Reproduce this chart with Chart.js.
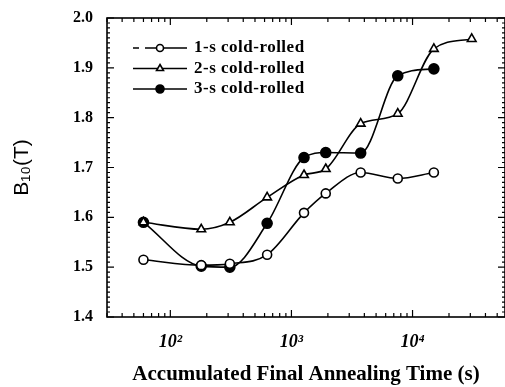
<!DOCTYPE html>
<html>
<head>
<meta charset="utf-8">
<script src="https://cdn.jsdelivr.net/npm/chart.js@4"></script>
<style>
  html, body { margin: 0; padding: 0; background: #fff; overflow: hidden; }
  canvas { display: block; }
</style>
</head>
<body>
<canvas id="chart" width="505" height="387"></canvas>
<script>
// annealing time (s)
const times = [60, 180, 310, 630, 1270, 1920, 3730, 7550, 15000, 30800];
const oneS   = [1.515, 1.504, 1.507, 1.525, 1.609, 1.648, 1.690, 1.678, 1.690];
const twoS   = [1.590, 1.576, 1.590, 1.640, 1.685, 1.697, 1.788, 1.808, 1.938, 1.958];
const threeS = [1.590, 1.502, 1.500, 1.588, 1.720, 1.730, 1.729, 1.884, 1.898];
const seriesNames = ['1-s cold-rolled', '2-s cold-rolled', '3-s cold-rolled'];
const xMajorLabels = { 100: '10\u00B2', 1000: '10\u00B3', 10000: '10\u2074' };

const toPoints = vals => vals.map((v, i) => ({ x: times[i], y: v }));
const serif = "'Liberation Serif', 'Times New Roman', serif";

// inward ticks + box frame
const frame = {
  id: 'frame',
  afterDatasetsDraw(chart) {
    const { ctx, chartArea: a, scales: { x, y } } = chart;
    ctx.save();
    ctx.strokeStyle = '#000';
    ctx.lineWidth = 1.6;
    ctx.strokeRect(a.left, a.top, a.right - a.left, a.bottom - a.top);
    ctx.lineWidth = 1.2;
    ctx.beginPath();
    for (let i = 0; i <= 60; i++) {
      const py = y.getPixelForValue(1.4 + i * 0.01);
      const len = i % 10 === 0 ? 7 : 3;
      ctx.moveTo(a.left, py); ctx.lineTo(a.left + len, py);
      ctx.moveTo(a.right, py); ctx.lineTo(a.right - len, py);
    }
    for (let d = 1; d <= 4; d++) {
      for (let m = 1; m <= 9; m++) {
        const v = m * Math.pow(10, d);
        if (v < x.min || v > x.max) continue;
        const px = x.getPixelForValue(v);
        const len = m === 1 ? 7 : 4;
        ctx.moveTo(px, a.bottom); ctx.lineTo(px, a.bottom - len);
        ctx.moveTo(px, a.top); ctx.lineTo(px, a.top + len);
      }
    }
    ctx.stroke();
    ctx.restore();
  }
};

// legend drawn inside the plot, line + marker + label
const innerLegend = {
  id: 'innerLegend',
  afterDraw(chart) {
    const ctx = chart.ctx;
    ctx.save();
    chart.data.datasets.forEach((ds, i) => {
      const yy = 48 + i * 20.5;
      ctx.strokeStyle = '#000';
      ctx.lineWidth = 1.5;
      ctx.beginPath();
      if (i === 0) {
        ctx.moveTo(133, yy); ctx.lineTo(139, yy);
        ctx.moveTo(145, yy); ctx.lineTo(187, yy);
      } else {
        ctx.moveTo(133, yy); ctx.lineTo(187, yy);
      }
      ctx.stroke();
      ctx.fillStyle = ds.pointBackgroundColor;
      ctx.strokeStyle = '#000';
      ctx.lineWidth = ds.pointBorderWidth;
      Chart.helpers.drawPoint(ctx, {
        pointStyle: ds.pointStyle,
        radius: ds.pointRadius - 1,
        rotation: 0,
        borderWidth: ds.pointBorderWidth
      }, 160, yy);
      ctx.fillStyle = '#000';
      ctx.font = 'bold 17px ' + serif;
      ctx.letterSpacing = '0.5px';
      ctx.textBaseline = 'middle';
      ctx.textAlign = 'left';
      ctx.fillText(ds.label, 194, yy);
    });
    ctx.restore();
  }
};

const lineStyle = {
  borderColor: '#000',
  borderWidth: 1.6,
  cubicInterpolationMode: 'monotone',
  pointBorderColor: '#000',
  pointBorderWidth: 1.6,
  fill: false
};

new Chart(document.getElementById('chart'), {
  type: 'line',
  data: {
    datasets: [
      { ...lineStyle, label: seriesNames[0], data: toPoints(oneS),
        pointStyle: 'circle', pointRadius: 4.5, pointBackgroundColor: '#fff' },
      { ...lineStyle, label: seriesNames[1], data: toPoints(twoS),
        pointStyle: 'triangle', pointRadius: 5, pointBackgroundColor: '#fff' },
      { ...lineStyle, label: seriesNames[2], data: toPoints(threeS),
        pointStyle: 'circle', pointRadius: 5, pointBackgroundColor: '#000' }
    ]
  },
  options: {
    responsive: false,
    animation: false,
    devicePixelRatio: 1,
    layout: { autoPadding: false, padding: { top: 18, right: 0, bottom: 0, left: 0 } },
    plugins: { legend: { display: false }, tooltip: { enabled: false } },
    scales: {
      x: {
        type: 'logarithmic',
        min: 30,
        max: 58000,
        grid: { display: false },
        border: { display: false },
        afterFit: s => { s.height = 70; s.paddingLeft = 0; s.paddingRight = 0; },
        ticks: {
          autoSkip: false,
          maxRotation: 0,
          padding: 7,
          color: '#000',
          font: { family: serif, size: 18, weight: 'bold', style: 'italic' },
          callback: v => xMajorLabels[v] || ''
        },
        title: {
          display: true,
          text: 'Accumulated Final Annealing Time (s)',
          color: '#000',
          font: { family: serif, size: 21, weight: 'bold' },
          padding: { top: 0, bottom: 0 }
        }
      },
      y: {
        min: 1.4,
        max: 2.0,
        grid: { display: false },
        border: { display: false },
        afterFit: s => { s.width = 107; s.paddingTop = 0; s.paddingBottom = 0; },
        ticks: {
          stepSize: 0.1,
          padding: 6,
          color: '#000',
          font: { family: serif, size: 16, weight: 'bold' },
          callback: v => v.toFixed(1)
        },
        title: {
          display: true,
          text: 'B\u2081\u2080(T)',
          color: '#000',
          font: { family: "'Liberation Sans', Arial, sans-serif", size: 21 },
          padding: { top: 10, bottom: 0 }
        }
      }
    }
  },
  plugins: [frame, innerLegend]
});
</script>
</body>
</html>
